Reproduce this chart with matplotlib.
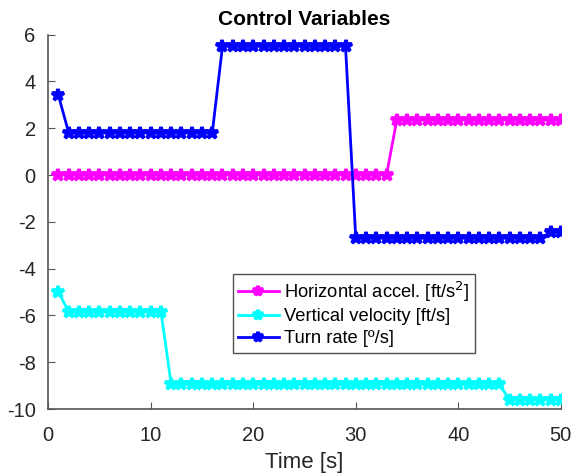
import numpy as np
import matplotlib
matplotlib.use("Agg")
import matplotlib.pyplot as plt

plt.rcParams['font.family'] = ['Liberation Sans', 'DejaVu Sans']
plt.rcParams['axes.unicode_minus'] = False

# time steps [s]
time = list(range(1, 51))

# horizontal acceleration [ft/s^2]
horiz_accel = [0.0] * 33 + [2.35] * 17
# vertical velocity [ft/s]
vert_vel = [-5.0] + [-5.85] * 10 + [-8.95] * 33 + [-9.6] * 6
# turn rate [deg/s]
turn_rate = [3.4] + [1.8] * 15 + [5.5] * 13 + [-2.7] * 19 + [-2.45] * 2

fig = plt.figure(figsize=(5.74, 4.74), dpi=100)
ax = fig.add_axes([0.084, 0.137, 0.893, 0.79])

ax.plot(time, horiz_accel, color="#ff00ff", lw=2, marker="*", ms=9, mew=2.6,
        label="Horizontal accel. [ft/s$^2$]")
ax.plot(time, vert_vel, color="#00ffff", lw=2, marker="*", ms=9, mew=2.6,
        label="Vertical velocity [ft/s]")
ax.plot(time, turn_rate, color="#0000ff", lw=2, marker="*", ms=9, mew=2.6,
        label="Turn rate [º/s]")

ax.set_xlim(0, 50)
ax.set_ylim(-10, 6)
ax.set_xticks([0, 10, 20, 30, 40, 50])
ax.set_yticks([-10, -8, -6, -4, -2, 0, 2, 4, 6])
ax.spines["top"].set_visible(False)
ax.spines["right"].set_visible(False)
for s in ["left", "bottom"]:
    ax.spines[s].set_color("#555555")
    ax.spines[s].set_linewidth(1.2)
ax.tick_params(direction="in", length=5, colors="#555555", labelcolor="#262626",
               labelsize=14.5)
ax.tick_params(axis="x", pad=12)
ax.tick_params(axis="y", pad=9)

ax.set_title("Control Variables", fontsize=15, fontweight="bold", pad=7)
ax.set_xlabel("Time [s]", fontsize=16, labelpad=5, color="#262626")

leg = ax.legend(loc="upper left", bbox_to_anchor=(0.36, 0.36), fontsize=13.2,
                frameon=True, fancybox=False, edgecolor="#262626",
                handlelength=2.2, handletextpad=0.3, borderpad=0.3,
                labelspacing=0.25, borderaxespad=0, markerscale=0.8)
leg.get_frame().set_linewidth(1.0)

fig.savefig("out.png", dpi=100)
